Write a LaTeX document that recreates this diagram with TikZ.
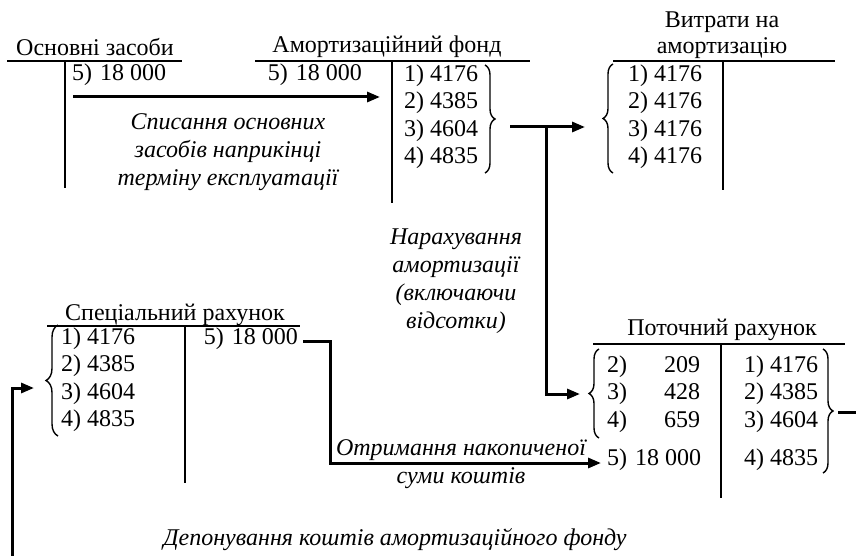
\documentclass[tikz,border=0pt]{standalone}
\usepackage{fontspec}
\setmainfont{Liberation Serif}
\usetikzlibrary{positioning, decorations.pathreplacing, arrows.meta}

\tikzset{
  acct/.style={inner sep=0pt},
  entry/.style={inner sep=0pt, text height=16pt, text depth=5pt, anchor=west},
  row/.style={entry, below=6pt of #1.south west, anchor=north west},
  note/.style={font=\fontsize{24}{28}\selectfont\itshape, align=center, inner sep=0pt},
  tline/.style={line width=1.6pt},
  wire/.style={line width=3pt},
  link/.style={wire, -{Triangle[length=13pt,width=10pt]}},
  curly/.style={decorate, decoration={brace, amplitude=#1}, line width=1.4pt},
  curly/.default=10pt
}

\begin{document}
\begin{tikzpicture}[x=1pt, y=-1pt, every node/.style={font=\fontsize{24}{26}\selectfont}]
  \useasboundingbox (0,0) rectangle (856,556);

  %Define accounts
  \node[acct] (os) at (95,47) {Основні засоби};
  \draw[tline] (7,61) -- (182,61) (65,61) -- (65,188);
  \node[entry] (os5) at (72,75) {5)\kern2pt\ 18 000};

  \node[acct] (af) at (387,47) {Амортизаційний фонд};
  \draw[tline] (255,61) -- (530,61) (392,61) -- (392,203);
  \node[entry, anchor=east] (af5) at (362,75) {5)\kern2pt\ 18 000};
  \node[entry] (af1) at (404,76) {1) 4176};
  \node[row=af1] (af2) {2) 4385};
  \node[row=af2] (af3) {3) 4604};
  \node[row=af3] (af4) {4) 4835};
  \draw[curly] (485,65) -- (485,173);

  \node[acct, align=center] (vy) at (722,35) {Витрати на\\амортизацію};
  \draw[tline] (613,61) -- (835,61) (723,61) -- (723,190);
  \node[entry] (vy1) at (628,76) {1) 4176};
  \node[row=vy1] (vy2) {2) 4176};
  \node[row=vy2] (vy3) {3) 4176};
  \node[row=vy3] (vy4) {4) 4176};
  \draw[curly] (613,173) -- (613,64);

  \node[acct] (sp) at (175,315) {Спеціальний рахунок};
  \draw[tline] (47,326) -- (300,326) (185,326) -- (185,483);
  \node[entry] (sp1) at (61,339) {1) 4176};
  \node[row=sp1] (sp2) {2) 4385};
  \node[row=sp2] (sp3) {3) 4604};
  \node[row=sp3] (sp4) {4) 4835};
  \node[entry, anchor=east] (sp5) at (298,339) {5)\kern2pt\ 18 000};
  \draw[curly=12pt] (58,436) -- (58,325);

  \node[acct] (pt) at (722,330) {Поточний рахунок};
  \draw[tline] (593,344) -- (845,344) (721,344) -- (721,498);
  \node[entry] (pt2) at (607,367) {\makebox[93pt]{2)\hfill 209}};
  \node[row=pt2] (pt3) {\makebox[93pt]{3)\hfill 428}};
  \node[row=pt3] (pt4) {\makebox[93pt]{4)\hfill 659}};
  \node[entry] (pt5) at (607,460) {5)\kern2pt\ 18 000};
  \node[entry] (pr1) at (744,367) {1) 4176};
  \node[row=pr1] (pr2) {2) 4385};
  \node[row=pr2] (pr3) {3) 4604};
  \node[entry] (pr4) at (744,460) {4) 4835};
  \draw[curly] (599,438) -- (599,349);
  \draw[curly] (823,349) -- (823,473);

  % Notes
  \node[note] (wonote) at (228,152) {Списання основних\\засобів наприкінці\\терміну експлуатації};
  \node[note] (dpnote) at (456,281) {Нарахування\\амортизації\\(включаючи\\відсотки)};
  \node[note] (rcnote) at (461,464) {Отримання накопиченої\\суми коштів};
  \node[note] (dnnote) at (395,540) {Депонування коштів амортизаційного фонду};

  % Connect the accounts
  \coordinate (wo1) at (73,97);
  \coordinate (wo2) at (380,97);
  \coordinate (afout) at (510,127);
  \coordinate (vyin) at (585,127);
  \coordinate (split) at (546,127);
  \coordinate (ptin) at (580,394);
  \coordinate (spout) at (303,341);
  \coordinate (pt5in) at (601,463);
  \coordinate (prout) at (838,412);
  \coordinate (rend) at (856,412);
  \coordinate (lend) at (12,556);
  \coordinate (spin) at (34,388);
  \draw[link] (wo1) -- (wo2);
  \draw[link] (afout) -- (vyin);
  \draw[link] (split) |- (ptin);
  \draw[link] (spout) -- ++(27,0) |- (pt5in);
  \draw[wire] (prout) -- (rend);
  \draw[link] (lend) |- (spin);
\end{tikzpicture}
\end{document}
